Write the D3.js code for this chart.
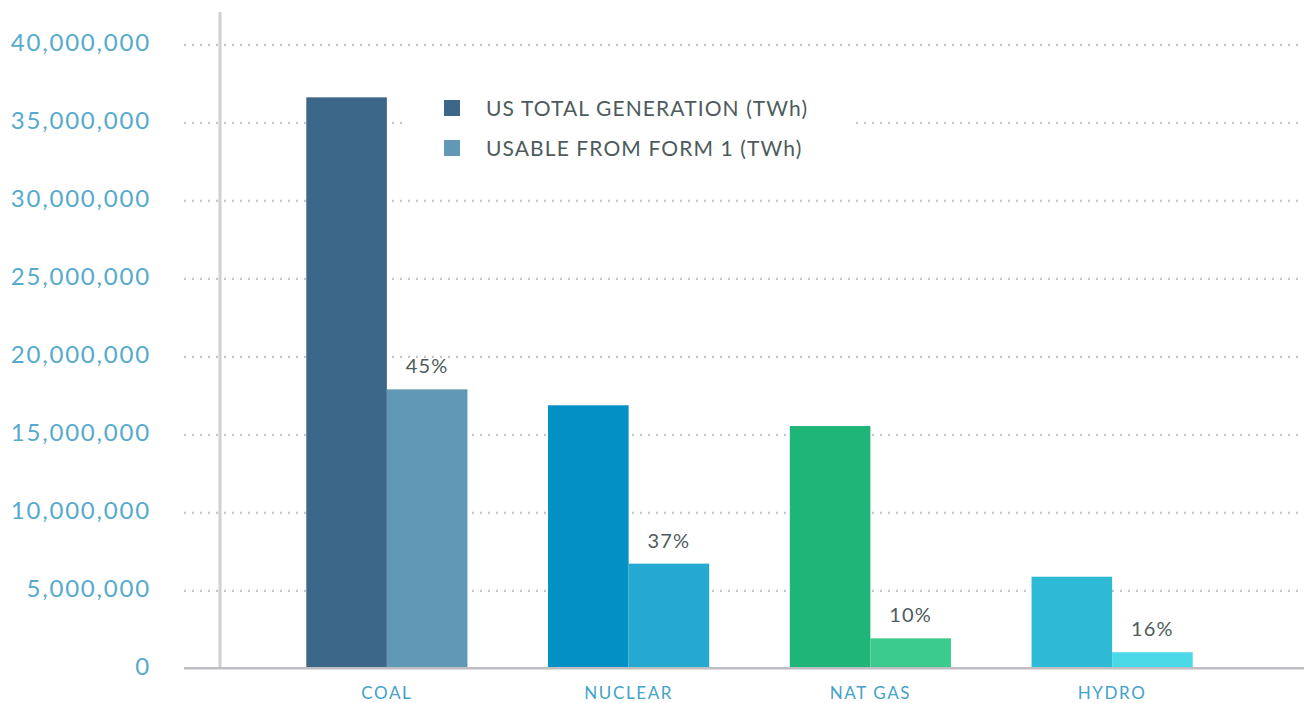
<!DOCTYPE html>
<html>
<head>
<meta charset="utf-8">
<script src="https://cdn.jsdelivr.net/npm/d3@7"></script>
<style>
  body { margin: 0; background: #fff; }
  text { font-family: Lato, "Open Sans", sans-serif; }
</style>
</head>
<body>
<div id="chart"></div>
<script>
// data
const categories = ["COAL", "NUCLEAR", "NAT GAS", "HYDRO"];
const series = ["US TOTAL GENERATION (TWh)", "USABLE FROM FORM 1 (TWh)"];
const totalGeneration = [36600000, 16860000, 15530000, 5870000];
const usableForm1 = [17880000, 6710000, 1920000, 1030000];
const shareLabels = ["45%", "37%", "10%", "16%"];
const yTicks = [0, 5000000, 10000000, 15000000, 20000000, 25000000, 30000000, 35000000, 40000000];

// colours, one pair per category
const totalColors = ["#3d6789", "#0290c5", "#1fb578", "#2ebad5"];
const usableColors = ["#6098b5", "#26a9d0", "#3ccb8e", "#4bd8e6"];

const width = 1304;
const height = 703;

const svg = d3.select("#chart")
  .append("svg")
  .attr("width", width)
  .attr("height", height)

let y = d3.scaleLinear().domain([0, 40000000]).range([668.3, 44.3])
let x0 = d3.scaleBand().domain(categories).range([266, 1233])
  .paddingInner(1 / 3).paddingOuter(1 / 6)
let x1 = d3.scaleBand().domain(series).range([0, x0.bandwidth()])

// gridlines + tick labels
let yAxis = d3.axisLeft(y)
  .tickValues(yTicks)
  .tickSize(-(1300 - 184))
  .tickPadding(33)
  .tickFormat(d3.format(","))

let gy = svg.append("g")
  .attr("transform", "translate(184,0)")
  .call(yAxis)
gy.select(".domain").remove()
gy.selectAll(".tick line")
  .attr("stroke", "#c6c6c6")
  .attr("stroke-width", 2.2)
  .attr("stroke-dasharray", "2,6")
  .attr("opacity", d => d === 0 ? 0 : 1)
gy.selectAll(".tick text")
  .attr("fill", "#55aacd")
  .attr("font-size", 24)
  .attr("letter-spacing", "1.8px")
  .attr("dy", "0.27em")
  .attr("font-family", "Lato, sans-serif")

// vertical axis line
svg.append("line")
  .attr("x1", 220).attr("x2", 220)
  .attr("y1", 12).attr("y2", y(0))
  .attr("stroke", "#cfcfd4")
  .attr("stroke-width", 3)

// white box behind the legend, cutting the gridline
svg.append("rect")
  .attr("x", 404).attr("y", 88)
  .attr("width", 448).attr("height", 78)
  .attr("fill", "#fff")

// bars
let rows = categories.map((c, i) => ({
  cat: c, i: i,
  vals: [totalGeneration[i], usableForm1[i]]
}))

let groups = svg.selectAll(".grp")
  .data(rows)
  .enter().append("g")
  .attr("class", "grp")
  .attr("transform", d => "translate(" + x0(d.cat) + ",0)")

groups.selectAll("rect")
  .data(d => d.vals.map((v, k) => ({ key: series[k], v: v, i: d.i, k: k })))
  .enter().append("rect")
  .attr("x", d => x1(d.key))
  .attr("y", d => y(d.v))
  .attr("width", x1.bandwidth())
  .attr("height", d => y(0) - y(d.v))
  .attr("fill", d => d.k === 0 ? totalColors[d.i] : usableColors[d.i])

// share labels above the usable bars
groups.append("text")
  .attr("x", x1(series[1]) + x1.bandwidth() / 2)
  .attr("y", d => y(d.vals[1]) - 16)
  .attr("text-anchor", "middle")
  .attr("font-size", 20)
  .attr("letter-spacing", "1.2px")
  .attr("fill", "#4f5b5c")
  .text(d => shareLabels[d.i])

// baseline
svg.append("line")
  .attr("x1", 184).attr("x2", width)
  .attr("y1", y(0)).attr("y2", y(0))
  .attr("stroke", "#bdbdc2")
  .attr("stroke-width", 2.5)

// category labels
svg.selectAll(".cat")
  .data(categories)
  .enter().append("text")
  .attr("class", "cat")
  .attr("x", d => x0(d) + x0.bandwidth() / 2)
  .attr("y", 699)
  .attr("text-anchor", "middle")
  .attr("font-size", 17)
  .attr("letter-spacing", "1.6px")
  .attr("fill", "#44a2c9")
  .text(d => d)

// legend
let legend = svg.append("g")

legend.selectAll("rect")
  .data(series)
  .enter().append("rect")
  .attr("x", 444)
  .attr("y", (d, i) => 100 + i * 40)
  .attr("width", 16).attr("height", 16)
  .attr("fill", (d, i) => i === 0 ? totalColors[0] : usableColors[0])

legend.selectAll("text")
  .data(series)
  .enter().append("text")
  .attr("x", 486)
  .attr("y", (d, i) => 116 + i * 40)
  .attr("font-size", 21)
  .attr("letter-spacing", "1.1px")
  .attr("fill", "#4d5b5c")
  .text(d => d)
</script>
</body>
</html>
